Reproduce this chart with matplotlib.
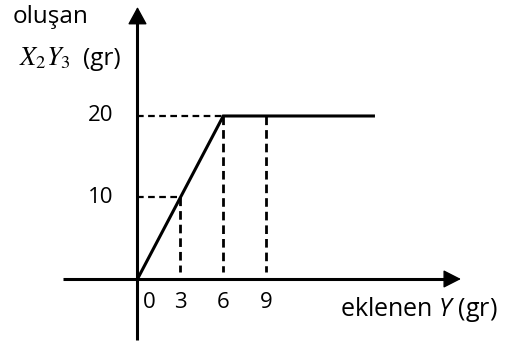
import matplotlib
matplotlib.use("Agg")
import matplotlib.pyplot as plt

plt.rcParams['font.family'] = ['Open Sans', 'DejaVu Sans']
plt.rcParams['mathtext.fontset'] = 'custom'
plt.rcParams['mathtext.rm'] = 'Open Sans'
plt.rcParams['mathtext.it'] = 'Open Sans:italic'
plt.rcParams['lines.scale_dashes'] = False

# data
added_y = [0, 6, 16.5]          # eklenen Y (gr)
formed_xy = [0, 20, 20]         # oluşan X2Y3 (gr)
x_ticks = [0, 3, 6, 9]
x_tick_labels = ["0", "3", "6", "9"]
y_ticks = [10, 20]
y_tick_labels = ["10", "20"]
guide_x = [3, 6, 9]
guide_top = [10, 20, 20]
guide_levels = [10, 20]
guide_level_ends = [3, 6]

fig = plt.figure(figsize=(5.23, 3.45), dpi=100)
ax = fig.add_axes([0, 0, 1, 1])
ax.set_xlim(-9.615, 26.96)
ax.set_ylim(-8.098, 34.23)
ax.axis('off')

lw = 2.2

# axes with arrowheads
ax.plot([-5.2, 22.0], [0, 0], color='black', lw=lw, solid_capstyle='butt')
ax.annotate('', xy=(22.62, 0), xytext=(21.0, 0),
            arrowprops=dict(arrowstyle='-|>,head_length=0.55,head_width=0.28',
                            mutation_scale=20, lw=1, color='black',
                            shrinkA=0, shrinkB=0))
ax.plot([0, 0], [-7.5, 32.5], color='black', lw=lw, solid_capstyle='butt')
ax.annotate('', xy=(0, 33.37), xytext=(0, 31.5),
            arrowprops=dict(arrowstyle='-|>,head_length=0.55,head_width=0.3',
                            mutation_scale=20, lw=1, color='black',
                            shrinkA=0, shrinkB=0))

# dashed guides
for gx, top in zip(guide_x, guide_top):
    ax.plot([gx, gx], [top, 0.8], color='black', lw=2.0, dashes=(6.2, 3.6))
for lvl, end in zip(guide_levels, guide_level_ends):
    ax.plot([0, end], [lvl, lvl], color='black', lw=1.6, dashes=(4.8, 3.2))

# the curve
ax.plot(added_y, formed_xy, color='black', lw=lw, solid_joinstyle='miter')

# tick labels
for v, lab in zip(x_ticks, x_tick_labels):
    if v == 0:
        ax.annotate(lab, xy=(v, 0), xytext=(5, -29), textcoords='offset pixels',
                    ha='left', va='baseline', fontsize=16)
    else:
        ax.annotate(lab, xy=(v, 0), xytext=(0, -29), textcoords='offset pixels',
                    ha='center', va='baseline', fontsize=16)
for v, lab in zip(y_ticks, y_tick_labels):
    ax.annotate(lab, xy=(0, v), xytext=(-24, 0), textcoords='offset pixels',
                ha='right', va='center', fontsize=16)

# axis titles
fig.text(13 / 523, 1 - 23 / 345, "oluşan", fontsize=17.5, ha='left', va='baseline')
fig.text(19 / 523, 1 - 65 / 345, r"$X_2Y_3$", fontsize=19, ha='left',
         va='baseline', math_fontfamily='stix')
fig.text(83 / 523, 1 - 65 / 345, "(gr)", fontsize=17.5, ha='left', va='baseline')
fig.text(340 / 523, 1 - 316 / 345, r"eklenen $Y$ (gr)", fontsize=18, ha='left',
         va='baseline')

fig.savefig("out.png", dpi=100, facecolor='white')
